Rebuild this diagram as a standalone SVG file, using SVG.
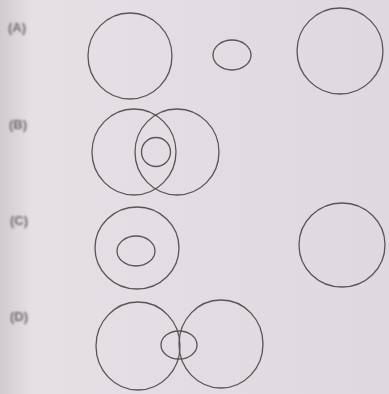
<svg xmlns="http://www.w3.org/2000/svg" width="389" height="394" viewBox="0 0 389 394">
<defs>
<linearGradient id="bg" x1="0" y1="0" x2="1" y2="0">
<stop offset="0" stop-color="#cfcbcf"/>
<stop offset="0.08" stop-color="#e4e0e4"/>
<stop offset="0.35" stop-color="#e2dee3"/>
<stop offset="1" stop-color="#ddd9de"/>
</linearGradient>
<filter id="blur" x="-20%" y="-20%" width="140%" height="140%"><feGaussianBlur stdDeviation="1.3"/></filter>
</defs>
<style>
.c{fill:none;stroke:#5a5458;stroke-width:1.3}
.lbl{font-family:"Liberation Sans",Arial,sans-serif;font-size:13px;font-weight:bold;fill:#6e686c}
</style>
<rect width="389" height="394" fill="url(#bg)"/>
<g id="labels" filter="url(#blur)">
<text class="lbl" x="8" y="32">(A)</text>
<text class="lbl" x="9" y="129">(B)</text>
<text class="lbl" x="10" y="225">(C)</text>
<text class="lbl" x="10" y="321">(D)</text>
</g>
<g id="rowA">
<ellipse class="c" cx="130" cy="56" rx="42" ry="43"/>
<ellipse class="c" cx="232" cy="55" rx="19" ry="15"/>
<ellipse class="c" cx="340" cy="51" rx="43" ry="43"/>
</g>
<g id="rowB">
<ellipse class="c" cx="134" cy="152" rx="42" ry="43"/>
<ellipse class="c" cx="177" cy="152" rx="42" ry="43"/>
<ellipse class="c" cx="156" cy="152" rx="14.5" ry="14.5"/>
</g>
<g id="rowC">
<ellipse class="c" cx="137" cy="248" rx="42" ry="41"/>
<ellipse class="c" cx="136" cy="251" rx="19" ry="15"/>
<ellipse class="c" cx="342" cy="245" rx="43" ry="42"/>
</g>
<g id="rowD">
<ellipse class="c" cx="138" cy="346" rx="42" ry="44"/>
<ellipse class="c" cx="221" cy="344" rx="42" ry="44"/>
<ellipse class="c" cx="179" cy="345" rx="18" ry="14"/>
</g>
</svg>
